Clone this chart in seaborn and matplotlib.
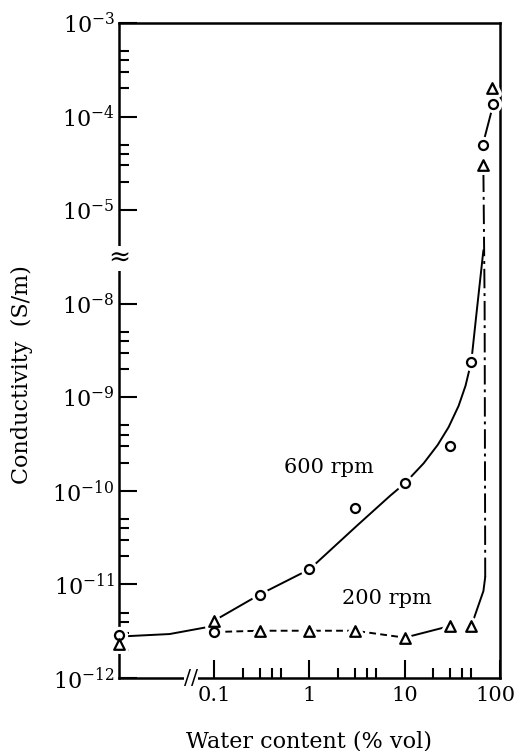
import numpy as np
import pandas as pd
import matplotlib
matplotlib.use("Agg")
import matplotlib.pyplot as plt
import matplotlib.transforms as mtransforms
import seaborn as sns
from matplotlib.ticker import FixedLocator, FixedFormatter, NullFormatter

# measured points, circles = 600 rpm, triangles = 200 rpm
water_600 = [0.01, 0.1, 0.3, 1, 3, 10, 30, 50, 66, 85]
cond_600 = [2.9e-12, 3.1e-12, 7.8e-12, 1.45e-11, 6.5e-11, 1.2e-10, 3.0e-10, 2.4e-9, 5.0e-5, 1.35e-4]

water_200 = [0.01, 0.1, 0.3, 1, 3, 10, 30, 50, 67, 83]
cond_200 = [2.3e-12, 4.1e-12, 3.2e-12, 3.2e-12, 3.2e-12, 2.7e-12, 3.6e-12, 3.6e-12, 3.0e-5, 2.0e-4]

# hand drawn guide curves
fit600_water = [0.0122, 0.034, 0.085, 0.1, 0.3, 1, 3.18, 7.06, 10, 15.8, 22.2, 28.9, 36.8,
                43.5, 50, 56.7, 67]
fit600_cond = [2.8e-12, 2.95e-12, 3.5e-12, 4.1e-12, 7.8e-12, 1.45e-11, 4.28e-11, 8.9e-11, 1.2e-10,
               1.97e-10, 3.1e-10, 4.8e-10, 8.1e-10, 1.33e-9, 2.4e-9, 7.9e-9, 5.2e-7]
top600_water = [66, 85]
top600_cond = [5.0e-5, 1.35e-4]

dash200_water = [0.1, 0.3, 1, 3, 10]
dash200_cond = [3.1e-12, 3.2e-12, 3.2e-12, 3.2e-12, 2.7e-12]
solid200_water = [10, 30]
solid200_cond = [2.7e-12, 3.6e-12]
rise200_water = [50, 67, 70]
rise200_cond = [3.6e-12, 8.5e-12, 1.2e-11]
dashdot200_water = [70, 69, 67]
dashdot200_cond = [1.2e-11, 1.0e-8, 2.6e-5]

# axis ticks
y_major = [1e-12, 1e-11, 1e-10, 1e-9, 1e-8, 1e-5, 1e-4, 1e-3]
y_labels = ['$10^{-12}$', '$10^{-11}$', '$10^{-10}$', '$10^{-9}$', '$10^{-8}$',
            '$10^{-5}$', '$10^{-4}$', '$10^{-3}$']
y_minor_decades = [-12, -11, -10, -9, -5, -4]
x_major = [0.1, 1, 10, 100]
x_labels = ['0.1', '1', '10', '100']
x_minor_decades = [-1, 0, 1]


def fwd(v):
    # log axis with the 1e-5 .. 1e-8 range squeezed into one decade (axis break)
    with np.errstate(divide='ignore', invalid='ignore'):
        L = np.log10(np.clip(np.asarray(v, dtype=float), 1e-300, None))
    return np.where(L >= -5, L, np.where(L <= -8, L + 2, -5 + (L + 5) / 3))


def inv(t):
    t = np.asarray(t, dtype=float)
    L = np.where(t >= -5, t, np.where(t <= -6, t - 2, -5 + 3 * (t + 5)))
    return 10.0 ** L


sns.set_theme(style='ticks')
plt.rcParams['font.family'] = ['DejaVu Serif']
plt.rcParams['mathtext.fontset'] = 'dejavuserif'
for key in ['text.color', 'axes.labelcolor', 'xtick.color', 'ytick.color', 'axes.edgecolor']:
    plt.rcParams[key] = 'black'

fig = plt.figure(figsize=(5.18, 7.51), dpi=100)
ax = fig.add_axes([0.2297, 0.0972, 0.7355, 0.8722])
ax.set_xscale('log')
ax.set_yscale('function', functions=(fwd, inv))

lw = 1.4
line_kw = dict(color='black', lw=lw, sort=False, estimator=None, errorbar=None, ax=ax, zorder=3)
sns.lineplot(x=fit600_water, y=fit600_cond, **line_kw)
sns.lineplot(x=top600_water, y=top600_cond, **line_kw)
sns.lineplot(x=dash200_water, y=dash200_cond, linestyle=(0, (3.5, 2.2)), **line_kw)
sns.lineplot(x=solid200_water, y=solid200_cond, **line_kw)
sns.lineplot(x=rise200_water, y=rise200_cond, **line_kw)
sns.lineplot(x=dashdot200_water, y=dashdot200_cond, linestyle=(0, (10, 2.5, 1.5, 2.5)), **line_kw)

# white halos under the open markers, then the markers
pts = pd.DataFrame({'water': water_600 + water_200,
                    'cond': cond_600 + cond_200,
                    'rpm': ['600'] * len(water_600) + ['200'] * len(water_200)})
marker_set = [('600', 'o', 42), ('200', '^', 58)]
for rpm, mk, size in marker_set:
    sub = pts[pts['rpm'] == rpm]
    sns.scatterplot(data=sub, x='water', y='cond', marker=mk, s=size, color='white',
                    edgecolor='white', linewidth=6, zorder=4, clip_on=False, ax=ax, legend=False)
for rpm, mk, size in marker_set:
    sub = pts[pts['rpm'] == rpm]
    sns.scatterplot(data=sub, x='water', y='cond', marker=mk, s=size, facecolor='white',
                    edgecolor='black', linewidth=1.6, zorder=5, clip_on=False, ax=ax, legend=False)

ax.set_xlim(0.01, 100)
ax.set_ylim(1e-12, 1e-3)

ax.yaxis.set_major_locator(FixedLocator(y_major))
ax.yaxis.set_major_formatter(FixedFormatter(y_labels))
ax.yaxis.set_minor_locator(FixedLocator([k * 10.0 ** n for n in y_minor_decades for k in (2, 3, 4, 5)]))
ax.yaxis.set_minor_formatter(NullFormatter())
ax.xaxis.set_major_locator(FixedLocator(x_major))
ax.xaxis.set_major_formatter(FixedFormatter(x_labels))
ax.xaxis.set_minor_locator(FixedLocator([k * 10.0 ** n for n in x_minor_decades for k in (2, 3, 4, 5)]))
ax.xaxis.set_minor_formatter(NullFormatter())

ax.tick_params(which='both', direction='in', top=False, right=False, width=1.5, color='black')
ax.tick_params(which='major', length=13)
ax.tick_params(which='minor', length=7)
ax.tick_params(axis='y', which='major', labelsize=16, pad=3)
ax.tick_params(axis='x', which='major', labelsize=15, pad=6)
for s in ax.spines.values():
    s.set_linewidth(1.8)
    s.set_color('black')

# keep the "100" label inside the figure
fig.canvas.draw()
last = ax.get_xticklabels()[-1]
last.set_transform(last.get_transform() + mtransforms.ScaledTranslation(-4 / 100, 0, fig.dpi_scale_trans))

ax.set_xlabel('Water content (% vol)', fontsize=16)
ax.set_ylabel('Conductivity  (S/m)', fontsize=16)
ax.xaxis.set_label_coords(0.5, -0.08)
ax.yaxis.set_label_coords(-0.225, 0.463)

ax.text(0.551, 0.322, '600 rpm', transform=ax.transAxes, ha='center', va='center', fontsize=15)
ax.text(0.703, 0.122, '200 rpm', transform=ax.transAxes, ha='center', va='center', fontsize=15)

# axis break marks
ax.text(0.0, 0.641, '≈', transform=ax.transAxes, ha='center', va='center', fontsize=19,
        zorder=6, clip_on=False, bbox=dict(boxstyle='square,pad=0.0', fc='white', ec='none'))
ax.text(0.189, 0.0, '//', transform=ax.transAxes, ha='center', va='center', fontsize=15,
        zorder=6, clip_on=False, bbox=dict(boxstyle='square,pad=0.0', fc='white', ec='none'))

fig.savefig('out.png', dpi=100)
